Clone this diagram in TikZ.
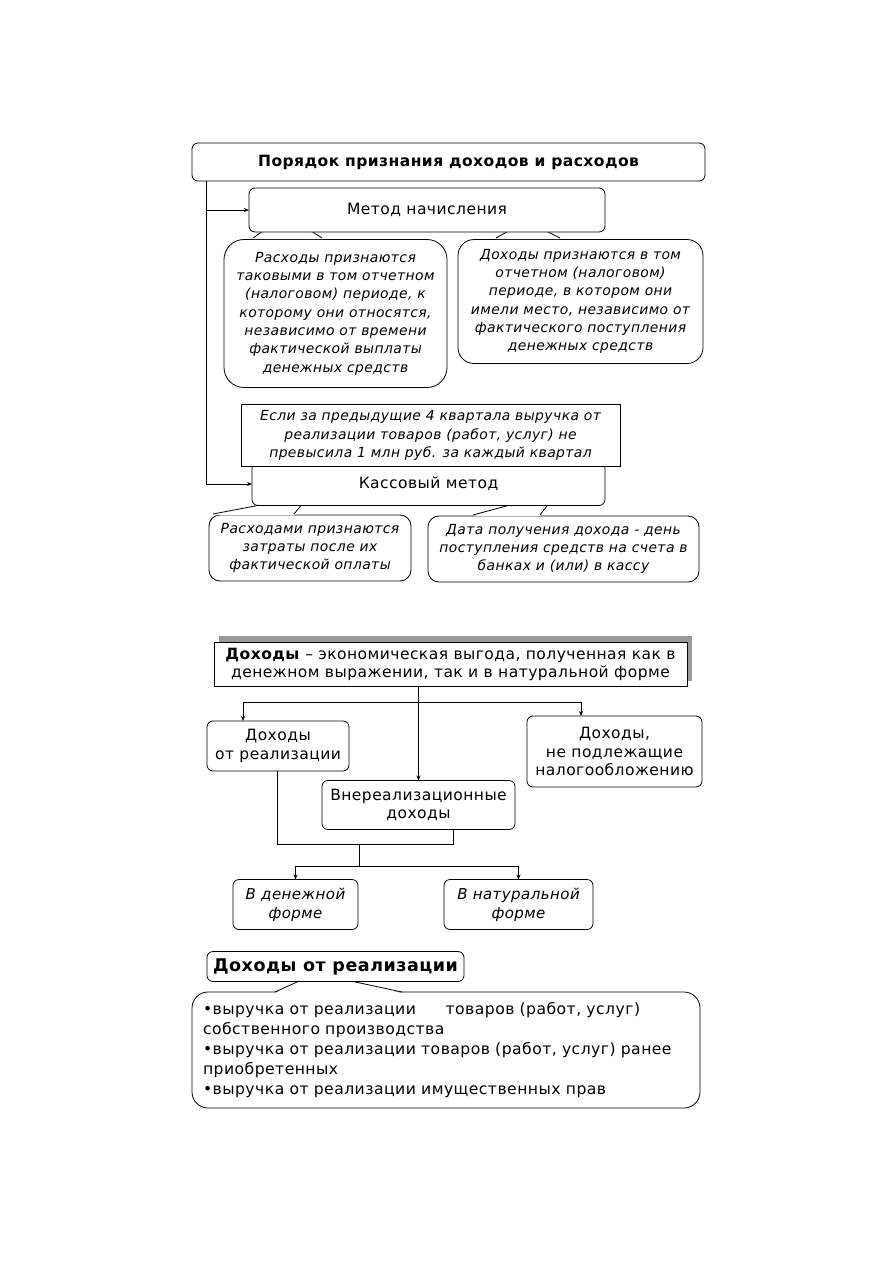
\documentclass[tikz,border=0pt]{standalone}
\usepackage{fontspec}
\setmainfont{DejaVu Sans}[LetterSpace=3]
\usetikzlibrary{arrows.meta,calc}
\begin{document}
\begin{tikzpicture}[x=1pt,y=-1pt,
  every node/.style={inner sep=0pt, outer sep=0pt, align=center},
  tx/.style={font=\fontsize{15.5}{18.6}\selectfont},
  itx/.style={font=\fontsize{13.9}{18.3}\selectfont\itshape},
  rbox/.style={draw, fill=white, rounded corners=6pt, line width=0.8pt},
  sbox/.style={draw, fill=white, line width=0.8pt},
  bubble/.style={draw, fill=white, line width=0.8pt},
  conn/.style={line width=0.8pt},
  arr/.style={line width=0.8pt, -{Stealth[length=5pt,width=4pt]}},
  ptr/.style={line width=0.8pt}
]
\useasboundingbox (0,0) rectangle (893,1263);

% ---------- callout bubbles (drawn first) ----------
\node[bubble, itx, rounded corners=20pt, minimum width=223, minimum height=148] (b1) at (335.5,313.5)
  {Расходы признаются\\таковыми в том отчетном\\(налоговом) периоде, к\\которому они относятся,\\независимо от времени\\фактической выплаты\\денежных средств};
\node[bubble, itx, rounded corners=16pt, minimum width=245, minimum height=124] (b2) at (580.5,301.5)
  {Доходы признаются в том\\отчетном (налоговом)\\периоде, в котором они\\имели место, независимо от\\фактического поступления\\денежных средств};
\node[bubble, itx, rounded corners=11pt, minimum width=202, minimum height=66] (b3) at (310,548)
  {Расходами признаются\\затраты после их\\фактической оплаты};
\node[bubble, itx, rounded corners=11pt, minimum width=271, minimum height=66] (b4) at (563.5,549)
  {Дата получения дохода - день\\поступления средств на счета в\\банках и (или) в кассу};
\node[bubble, font=\fontsize{15.6}{20}\selectfont, align=left, rounded corners=16pt, text width=486, inner xsep=11pt, minimum height=116] (b5) at (446,1050)
  {•выручка от реализации\hspace*{1.9em}товаров (работ, услуг)\\собственного производства\\•выручка от реализации товаров (работ, услуг) ранее\\приобретенных\\•выручка от реализации имущественных прав};

% ---------- callout pointers ----------
\newcommand{\callptr}[6]{%
  \fill[white] (#1,#5+1.2) -- (#2,#6) -- (#3,#6) -- (#4,#5+1.2) -- cycle;
  \draw[ptr] (#1,#5) -- (#2,#6) (#4,#5) -- (#3,#6);}
\callptr{253}{266}{308}{322}{238}{229}
\callptr{496}{512}{542}{560}{238}{229}
\callptr{213}{276}{304}{294}{514}{502}
\callptr{473}{521}{550}{540}{515}{502}
\callptr{275}{308}{332}{402}{992}{977}

% ---------- top section boxes ----------
\node[rbox, font=\fontsize{15.5}{18}\selectfont\bfseries, minimum width=513, minimum height=38] (title) at (448.5,162)
  {Порядок признания доходов и расходов};
\node[rbox, tx, minimum width=356, minimum height=44] (metod) at (427,210) {Метод начисления};
\node[rbox, tx, minimum width=353, minimum height=43] (kass) at (428.5,484) {Кассовый метод};
\node[sbox, itx, minimum width=379, minimum height=62] (cond) at (430.5,435.5)
  {Если за предыдущие 4 квартала выручка от\\реализации товаров (работ, услуг) не\\превысила 1 млн руб. за каждый квартал};

\coordinate (t1) at (206,181);
\draw[arr] (t1) |- (metod.west);
\draw[arr] (t1) |- (kass.west);

% ---------- second section ----------
\fill[black!40] (219,636) rectangle (692,681);
\node[sbox, tx, minimum width=473, minimum height=44] (def) at (450.5,664.5)
  {\textbf{Доходы} – экономическая выгода, полученная как в\\денежном выражении, так и в натуральной форме};

\node[rbox, tx, minimum width=142, minimum height=50] (real) at (278,746) {Доходы\\от реализации};
\node[rbox, tx, minimum width=175, minimum height=71] (nontax) at (614.5,751.5) {Доходы,\\не подлежащие\\налогообложению};
\node[rbox, tx, minimum width=193, minimum height=49] (vne) at (418.5,805) {Внереализационные\\доходы};
\node[rbox, font=\fontsize{15}{19}\selectfont\itshape, minimum width=125, minimum height=50] (den) at (295.5,904.5) {В денежной\\форме};
\node[rbox, font=\fontsize{15}{19}\selectfont\itshape, minimum width=149, minimum height=50] (nat) at (518.5,904.5) {В натуральной\\форме};

\draw[arr] (vne.north |- def.south) -- (vne.north);
\coordinate (h1) at (243,702);
\coordinate (h2) at (581,702);
\draw[conn] (h1) -- (h2);
\draw[arr] (h1) -- (h1 |- real.north);
\draw[arr] (h2) -- (h2 |- nontax.north);

\coordinate (k1) at (277,844);
\coordinate (k2) at (453,844);
\draw[conn] (real.south -| k1) -- (k1) -- (k2) -- (vne.south -| k2);
\coordinate (m1) at (359,844);
\coordinate (m2) at (359,866);
\draw[conn] (m1) -- (m2);
\draw[conn] (den.north |- m2) -- (nat.north |- m2);
\draw[arr] (den.north |- m2) -- (den.north);
\draw[arr] (nat.north |- m2) -- (nat.north);

% ---------- third section ----------
\node[rbox, font=\fontsize{17.5}{20}\selectfont\bfseries, minimum width=257, minimum height=30] (rt) at (335.5,966.5) {Доходы от реализации};

\end{tikzpicture}
\end{document}
